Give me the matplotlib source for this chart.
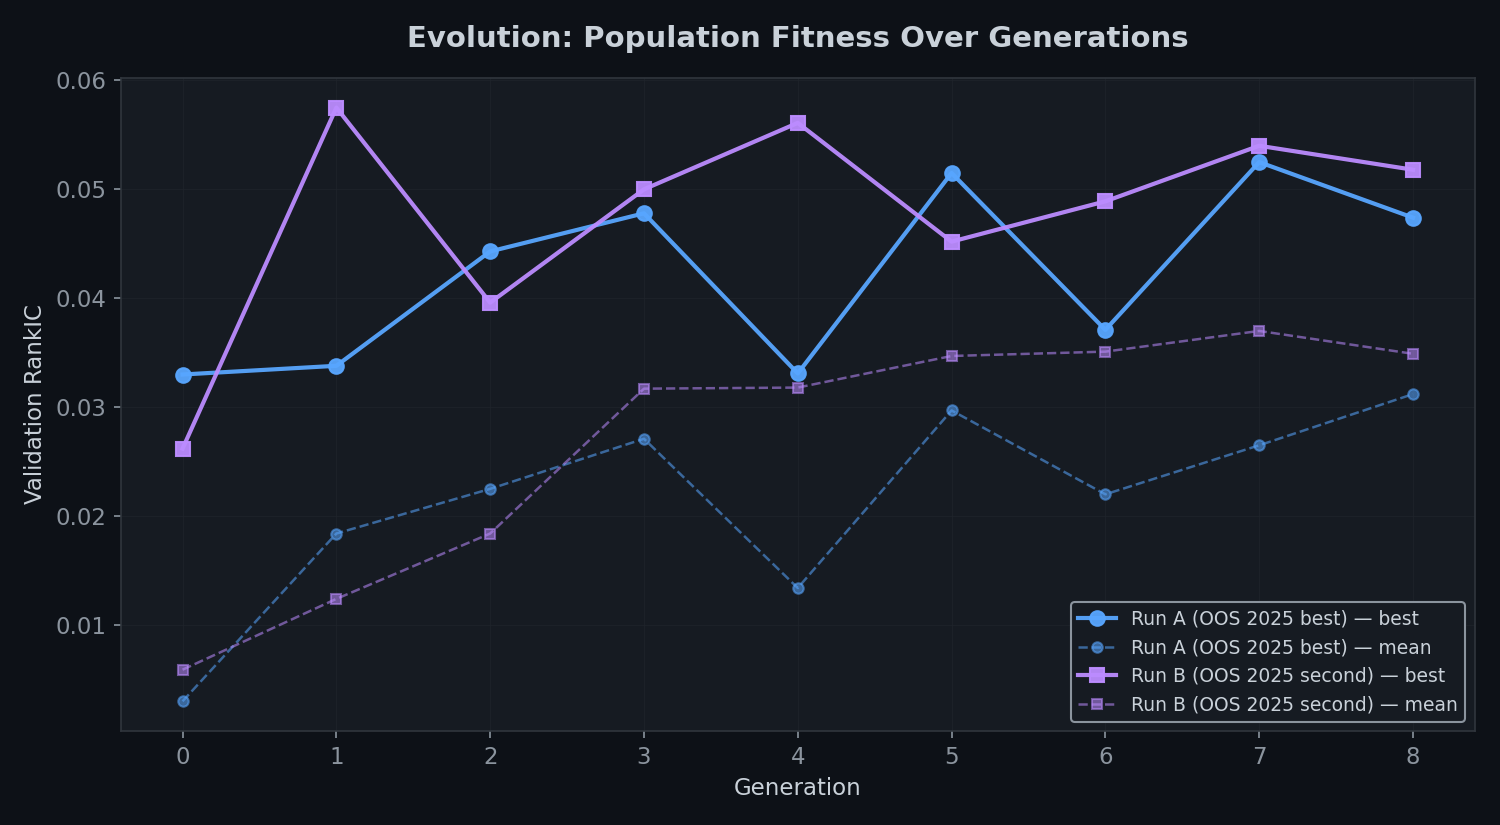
import matplotlib
matplotlib.use("Agg")
import matplotlib.pyplot as plt

generations = [0, 1, 2, 3, 4, 5, 6, 7, 8]
run_a_best = [0.0330, 0.0338, 0.0443, 0.0478, 0.0331, 0.0515, 0.0371, 0.0525, 0.0474]
run_a_mean = [0.0030, 0.0184, 0.0225, 0.0271, 0.0134, 0.0297, 0.0220, 0.0265, 0.0312]
run_b_best = [0.0262, 0.0575, 0.0396, 0.0500, 0.0561, 0.0452, 0.0489, 0.0540, 0.0518]
run_b_mean = [0.0059, 0.0124, 0.0184, 0.0317, 0.0318, 0.0347, 0.0351, 0.0370, 0.0349]

# couleurs style "github dark"
bg = "#0d1117"
panel = "#161b22"
blue = "#58a6ff"
purple = "#bc8cff"
text_col = "#c9d1d9"
tick_col = "#8b949e"
edge = "#30363d"

fig, ax = plt.subplots(figsize=(10, 5.5), dpi=150)
fig.patch.set_facecolor(bg)
ax.set_facecolor(panel)
fig.subplots_adjust(left=0.0807, right=0.983, top=0.9055, bottom=0.114)

ax.plot(generations, run_a_best, color=blue, lw=2, marker="o", ms=7,
        alpha=0.95, label="Run A (OOS 2025 best) — best")
ax.plot(generations, run_a_mean, color=blue, lw=1.2, ls="--", marker="o", ms=5,
        alpha=0.55, label="Run A (OOS 2025 best) — mean")
ax.plot(generations, run_b_best, color=purple, lw=2, marker="s", ms=7,
        alpha=0.95, label="Run B (OOS 2025 second) — best")
ax.plot(generations, run_b_mean, color=purple, lw=1.2, ls="--", marker="s", ms=5,
        alpha=0.55, label="Run B (OOS 2025 second) — mean")

ax.set_title("Evolution: Population Fitness Over Generations", color=text_col,
             fontsize=14, fontweight="bold", pad=15)
ax.set_xlabel("Generation", color=text_col, fontsize=11)
ax.set_ylabel("Validation RankIC", color=text_col, fontsize=11)
ax.set_xticks(generations)
ax.set_yticks([0.01, 0.02, 0.03, 0.04, 0.05, 0.06])
ax.tick_params(colors=tick_col, labelsize=11)
ax.grid(True, color="#21262d", lw=0.6, alpha=0.6)
for s in ax.spines.values():
    s.set_color(edge)

leg = ax.legend(loc="lower right", fontsize=9, facecolor=panel, edgecolor=tick_col,
                labelcolor=text_col, framealpha=1.0)

fig.savefig("out.png", facecolor=bg)
